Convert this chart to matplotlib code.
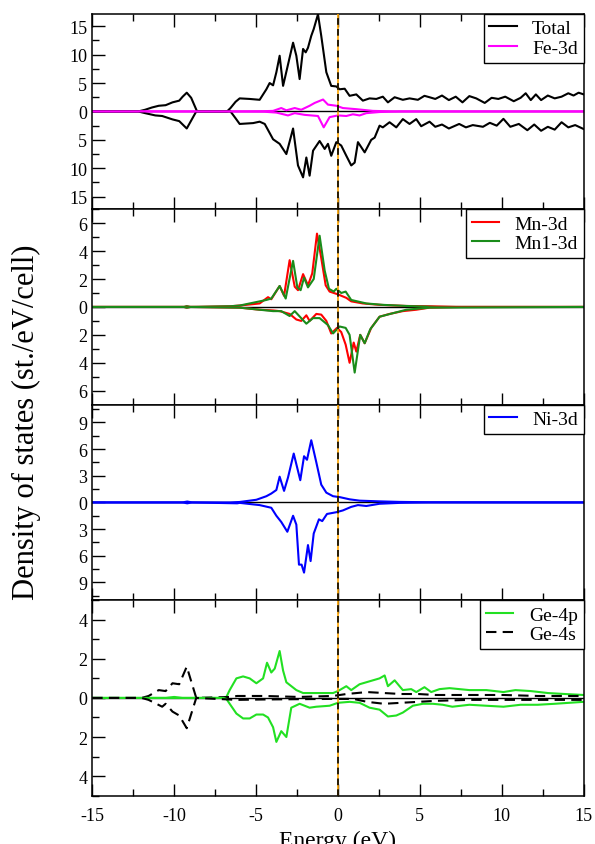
import matplotlib
matplotlib.use("Agg")
import matplotlib.pyplot as plt
from matplotlib.ticker import MultipleLocator, FuncFormatter

plt.rcParams['font.family'] = ['Liberation Serif', 'DejaVu Serif']
plt.rcParams['axes.unicode_minus'] = False

# ---- data (energy in eV, DOS in st./eV/cell; spin-down negative) ----
total_up_e = [-15, -12.19, -11.77, -11.35, -10.94, -10.52, -10.10, -9.69, -9.48, -9.23, -8.96, -8.60,
              -6.77, -6.56, -6.25, -6.0, -5.39, -4.78, -4.37, -4.17, -3.96, -3.76, -3.56, -3.35,
              -2.74, -2.54, -2.34, -2.13, -1.97, -1.83, -1.63, -1.48, -1.22, -1.02, -0.71, -0.41,
              -0.10, 0.10, 0.41, 0.71, 1.12, 1.52, 1.93, 2.34, 2.74, 3.05, 3.46, 3.96, 4.37, 4.88,
              5.28, 5.59, 5.94, 6.35, 6.77, 7.19, 7.60, 8.02, 8.44, 8.96, 9.38, 9.79, 10.21, 10.73,
              11.15, 11.46, 11.77, 12.08, 12.40, 12.81, 13.23, 13.65, 14.06, 14.38, 14.69, 15]
total_up = [0, 0, 0.3, 0.7, 1.0, 1.1, 1.6, 1.9, 2.6, 3.3, 2.4, 0,
            0, 0.6, 1.7, 2.3, 2.2, 2.05, 3.9, 5.0, 4.6, 6.9, 9.8, 4.5,
            12.1, 9.8, 5.7, 11.0, 10.4, 11.2, 13.3, 14.5, 17.1, 13.3, 6.9, 4.5,
            4.4, 3.9, 4.0, 2.75, 3.0, 1.9, 2.3, 2.2, 2.6, 1.6, 2.5, 2.05, 2.3, 2.05,
            2.75, 2.5, 2.2, 2.8, 2.0, 2.6, 1.6, 2.7, 2.3, 1.5, 2.4, 2.2, 2.6, 1.8,
            2.4, 3.2, 2.0, 3.0, 2.0, 2.8, 2.3, 2.6, 3.2, 2.8, 3.3, 3.0]

total_dn_e = [-15, -12.19, -11.77, -11.15, -10.73, -10.10, -9.69, -9.23, -8.65,
              -6.56, -6.25, -6.0, -5.18, -4.78, -4.47, -3.96, -3.56, -3.15, -2.74, -2.44, -2.13,
              -1.93, -1.73, -1.52, -1.12, -0.81, -0.61, -0.41, -0.10, 0.20, 0.51, 0.81, 1.02,
              1.22, 1.63, 2.03, 2.24, 2.54, 2.74, 3.15, 3.56, 3.96, 4.37, 4.78, 5.08, 5.59, 5.94,
              6.35, 6.77, 7.40, 7.81, 8.23, 8.85, 9.27, 9.69, 10.10, 10.52, 11.04, 11.56, 11.98,
              12.40, 12.81, 13.23, 13.65, 14.06, 14.48, 15]
total_dn = [0, 0, -0.3, -0.7, -0.8, -1.4, -1.7, -3.0, 0,
            0, -1.2, -2.2, -2.05, -1.8, -2.2, -4.9, -5.7, -7.5, -3.0, -9.5, -11.6,
            -8.1, -11.3, -6.9, -5.2, -6.6, -5.7, -7.8, -5.4, -6.0, -7.8, -9.5, -9.0,
            -5.4, -7.2, -5.0, -4.6, -2.5, -2.8, -1.9, -2.8, -1.35, -2.2, -1.35, -2.6, -1.8, -2.7,
            -2.3, -3.0, -2.2, -2.8, -2.4, -2.7, -2.0, -2.5, -1.3, -2.7, -2.2, -3.3, -2.3,
            -3.4, -2.7, -3.2, -1.9, -2.8, -2.4, -3.1]

fe_up_e = [-15, -6.5, -4.5, -3.96, -3.46, -3.15, -2.64, -2.24, -1.73, -1.42, -0.91, -0.61, -0.10,
           0.30, 1.12, 2.13, 3.5, 15]
fe_up = [0, 0, 0.05, 0.1, 0.6, 0.2, 0.6, 0.3, 1.0, 1.5, 2.1, 1.2, 1.0,
         0.6, 0.4, 0.1, 0, 0]
fe_dn_e = [-15, -6.5, -4.5, -3.76, -3.05, -2.64, -2.03, -1.22, -0.87, -0.51, 0.0, 0.51, 0.91,
           1.32, 1.73, 2.54, 3.76, 15]
fe_dn = [0, 0, -0.05, -0.2, -0.7, -0.3, -0.6, -0.8, -2.8, -1.0, -0.7, -0.8, -0.5,
         -0.7, -0.3, -0.1, 0, 0]

mn_up_e = [-15, -9.4, -9.23, -9.0, -6.56, -6.0, -4.78, -4.27, -4.07, -3.56, -3.29, -2.95, -2.64,
           -2.44, -2.13, -1.83, -1.57, -1.28, -1.02, -0.75, -0.51, 0.0, 0.51, 0.81, 1.52, 2.54,
           4.17, 5.59, 7.5, 15]
mn_up = [0, 0, 0.05, 0, 0.05, 0.1, 0.25, 0.7, 0.55, 1.5, 0.8, 3.35, 1.45,
         1.2, 2.35, 1.55, 2.4, 5.25, 3.5, 1.55, 1.1, 0.9, 0.65, 0.4, 0.25, 0.15,
         0.07, 0.05, 0, 0]
mn_dn_e = [-15, -9.4, -9.23, -9.0, -6.0, -4.78, -3.96, -3.56, -2.95, -2.54, -2.24, -1.93, -1.73,
           -1.32, -1.02, -0.71, -0.41, -0.06, 0.20, 0.47, 0.71, 0.96, 1.12, 1.36, 1.63, 2.03,
           2.54, 3.15, 3.96, 4.78, 5.59, 7.5, 15]
mn_dn = [0, 0, -0.05, 0, -0.05, -0.2, -0.25, -0.3, -0.5, -0.9, -1.0, -0.6, -1.0,
         -0.5, -0.55, -1.0, -1.9, -1.5, -1.8, -2.7, -4.0, -2.55, -3.2, -2.0, -2.6, -1.5,
         -0.7, -0.5, -0.3, -0.2, -0.05, 0, 0]

mn1_up_e = [-15, -9.4, -9.23, -9.0, -6.56, -6.0, -4.37, -4.07, -3.56, -3.19, -2.74, -2.48,
            -2.28, -2.07, -1.83, -1.48, -1.12, -0.81, -0.55, -0.26, -0.10, 0.20, 0.47, 0.81,
            1.73, 2.74, 4.17, 6.0, 15]
mn1_up = [0, 0, 0.05, 0, 0.05, 0.1, 0.5, 0.6, 1.5, 0.6, 3.3, 1.4,
          1.2, 2.1, 1.4, 2.0, 5.1, 2.6, 1.3, 1.1, 1.3, 1.0, 1.1, 0.5,
          0.25, 0.15, 0.07, 0, 0]
mn1_dn_e = [-15, -9.4, -9.23, -9.0, -6.0, -3.96, -3.46, -2.95, -2.64, -1.93, -1.52, -1.12,
            -0.61, -0.30, 0.10, 0.47, 0.71, 1.02, 1.36, 1.63, 1.97, 2.54, 3.35, 4.17, 5.59, 15]
mn1_dn = [0, 0, -0.05, 0, -0.05, -0.3, -0.3, -0.65, -0.3, -1.2, -0.8, -0.8,
          -1.3, -1.9, -1.4, -1.5, -2.0, -4.7, -2.0, -2.6, -1.6, -0.7, -0.45, -0.2, -0.05, 0]

ni_up_e = [-15, -9.5, -9.2, -8.9, -6.56, -6.0, -4.98, -4.37, -4.07, -3.76, -3.56, -3.29, -3.05,
           -2.70, -2.50, -2.30, -2.07, -1.89, -1.63, -1.32, -1.02, -0.71, -0.30, 0.10, 0.71,
           1.32, 2.54, 3.76, 5.59, 15]
ni_up = [0, 0, 0.1, 0, 0, 0.05, 0.3, 0.7, 1.0, 1.4, 2.9, 1.3, 2.8,
         5.5, 4.0, 2.5, 5.2, 4.8, 7.0, 4.5, 2.0, 1.1, 0.7, 0.6, 0.35,
         0.2, 0.12, 0.06, 0.02, 0]
ni_dn_e = [-15, -9.5, -9.2, -8.9, -6.15, -6.0, -4.78, -4.07, -3.76, -3.46, -3.09, -2.74, -2.54,
           -2.38, -2.22, -2.07, -1.83, -1.67, -1.48, -1.16, -0.96, -0.67, -0.10, 0.30, 0.81,
           1.22, 1.73, 2.54, 3.76, 5.59, 15]
ni_dn = [0, 0, -0.1, 0, -0.1, -0.05, -0.3, -0.6, -1.5, -2.2, -3.3, -1.5, -2.5,
         -7.0, -7.0, -7.9, -4.8, -6.6, -3.5, -1.9, -2.1, -1.3, -1.1, -0.9, -0.5,
         -0.3, -0.4, -0.15, -0.05, 0, 0]

ge4p_up_e = [-15, -10.5, -10.0, -9.5, -6.98, -6.81, -6.61, -6.20, -5.79, -5.39, -4.98, -4.57,
             -4.33, -4.07, -3.86, -3.56, -3.35, -3.15, -2.54, -2.13, -1.32, -0.30, 0.0, 0.51,
             0.81, 1.32, 1.93, 2.54, 2.85, 3.05, 3.46, 3.96, 4.47, 4.78, 5.28, 5.69, 6.20, 6.81,
             8.02, 9.06, 10.10, 10.83, 11.77, 12.81, 13.85, 15]
ge4p_up = [0, 0, 0.05, 0, 0, 0.05, 0.4, 1.0, 1.1, 1.0, 0.75, 1.0,
           1.8, 1.3, 1.5, 2.4, 1.4, 0.8, 0.4, 0.25, 0.25, 0.25, 0.35, 0.6,
           0.4, 0.7, 0.85, 1.0, 1.15, 0.6, 0.9, 0.4, 0.45, 0.3, 0.55, 0.3, 0.45, 0.5,
           0.4, 0.4, 0.3, 0.4, 0.35, 0.25, 0.2, 0.15]
ge4p_dn_e = [-15, -6.98, -6.81, -6.61, -6.20, -5.79, -5.39, -4.98, -4.57, -4.27, -3.96, -3.76,
             -3.46, -3.15, -2.85, -2.34, -1.73, -1.32, -0.51, 0.0, 0.71, 1.32, 1.93, 2.54, 3.05,
             3.56, 3.96, 4.57, 5.18, 5.79, 6.40, 6.98, 8.02, 9.06, 10.10, 11.15, 12.19, 13.23, 15]
ge4p_dn = [0, 0, -0.05, -0.3, -0.8, -1.05, -1.05, -0.85, -0.85, -1.0, -1.5, -2.25,
           -1.7, -2.0, -0.5, -0.3, -0.5, -0.45, -0.4, -0.25, -0.2, -0.25, -0.5, -0.6, -0.95,
           -0.9, -0.75, -0.4, -0.3, -0.3, -0.35, -0.45, -0.35, -0.4, -0.45, -0.35, -0.35, -0.3, -0.2]

ge4s_up_e = [-15, -11.98, -11.56, -10.94, -10.52, -10.10, -9.69, -9.23, -8.65, -6.56, -6.15,
             -4.48, -2.40, -0.31, 0.52, 1.15, 1.77, 2.81, 3.85, 4.90, 5.94, 8.02, 10.10, 12.19, 15]
ge4s_up = [0, 0, 0.1, 0.4, 0.35, 0.75, 0.7, 1.6, 0, 0.05, 0.1,
           0.1, 0.05, 0.1, 0.2, 0.25, 0.3, 0.25, 0.2, 0.2, 0.15, 0.15, 0.15, 0.1, 0.1]
ge4s_dn_e = [-15, -11.98, -11.56, -10.73, -10.52, -10.10, -9.69, -9.23, -8.65, -6.15, -4.48,
             -0.31, 0.94, 1.77, 2.81, 3.85, 4.90, 5.94, 8.02, 15]
ge4s_dn = [0, 0, -0.1, -0.45, -0.3, -0.7, -0.9, -1.55, 0, -0.1, -0.08,
           -0.05, -0.05, -0.2, -0.3, -0.25, -0.2, -0.15, -0.1, -0.1]

# ---- figure ----
fig, axes = plt.subplots(4, 1, sharex=True, figsize=(5.95, 8.45), dpi=100)
fig.subplots_adjust(left=0.155, right=0.981, top=0.9826, bottom=0.0572, hspace=0)
ax1, ax2, ax3, ax4 = axes

lw = 1.5
ax1.plot(total_up_e, total_up, color='black', lw=lw, label='Total')
ax1.plot(fe_up_e, fe_up, color='#ff00ff', lw=lw, label='Fe-3d')
ax1.plot(total_dn_e, total_dn, color='black', lw=lw)
ax1.plot(fe_dn_e, fe_dn, color='#ff00ff', lw=lw)

ax2.plot(mn_up_e, mn_up, color='#ff0000', lw=lw, label='Mn-3d')
ax2.plot(mn1_up_e, mn1_up, color='#1a8c1a', lw=lw, label='Mn1-3d')
ax2.plot(mn_dn_e, mn_dn, color='#ff0000', lw=lw)
ax2.plot(mn1_dn_e, mn1_dn, color='#1a8c1a', lw=lw)

ax3.plot(ni_up_e, ni_up, color='#0000ff', lw=lw, label='Ni-3d')
ax3.plot(ni_dn_e, ni_dn, color='#0000ff', lw=lw)

ax4.plot(ge4p_up_e, ge4p_up, color='#22e022', lw=lw, label='Ge-4p')
ax4.plot(ge4s_up_e, ge4s_up, color='black', lw=lw, ls=(0, (5, 3)), label='Ge-4s')
ax4.plot(ge4p_dn_e, ge4p_dn, color='#22e022', lw=lw)
ax4.plot(ge4s_dn_e, ge4s_dn, color='black', lw=lw, ls=(0, (5, 3)))

ylims = [17.2, 7.0, 11.0, 5.0]
majors = [5, 2, 3, 2]
minors = [2.5, 1, 1.5, 1]
absfmt = FuncFormatter(lambda v, p: f"{abs(v):g}")

for ax, yl, mj, mn in zip(axes, ylims, majors, minors):
    ax.axhline(0, color='black', lw=1.0, zorder=1)
    ax.axvline(0, color='orange', lw=1.2, zorder=3)
    ax.axvline(0, color='black', lw=1.2, ls=(0, (4, 2.5)), zorder=4)
    ax.set_xlim(-15, 15)
    ax.set_ylim(-yl, yl)
    ax.yaxis.set_major_locator(MultipleLocator(mj))
    ax.yaxis.set_minor_locator(MultipleLocator(mn))
    ax.yaxis.set_major_formatter(absfmt)
    ax.xaxis.set_major_locator(MultipleLocator(5))
    ax.xaxis.set_minor_locator(MultipleLocator(2.5))
    ax.tick_params(which='both', direction='in', top=True, right=False, width=1.0,
                   labelsize=13)
    ax.tick_params(which='major', length=9)
    ax.tick_params(which='minor', length=5)
    ax.tick_params(axis='x', pad=8)
    for s in ax.spines.values():
        s.set_linewidth(1.1)
    leg = ax.legend(loc='upper right', borderaxespad=0, fancybox=False, framealpha=1,
                    edgecolor='black', fontsize=14, handlelength=1.4, handletextpad=0.8,
                    borderpad=0.3, labelspacing=0.1)
    leg.get_frame().set_linewidth(1.0)

ax4.set_xlabel('Energy (eV)', fontsize=17, labelpad=4)
fig.text(0.045, 0.5, 'Density of states (st./eV/cell)', rotation=90, fontsize=22,
         ha='center', va='center')

fig.savefig('out.png', dpi=100)
